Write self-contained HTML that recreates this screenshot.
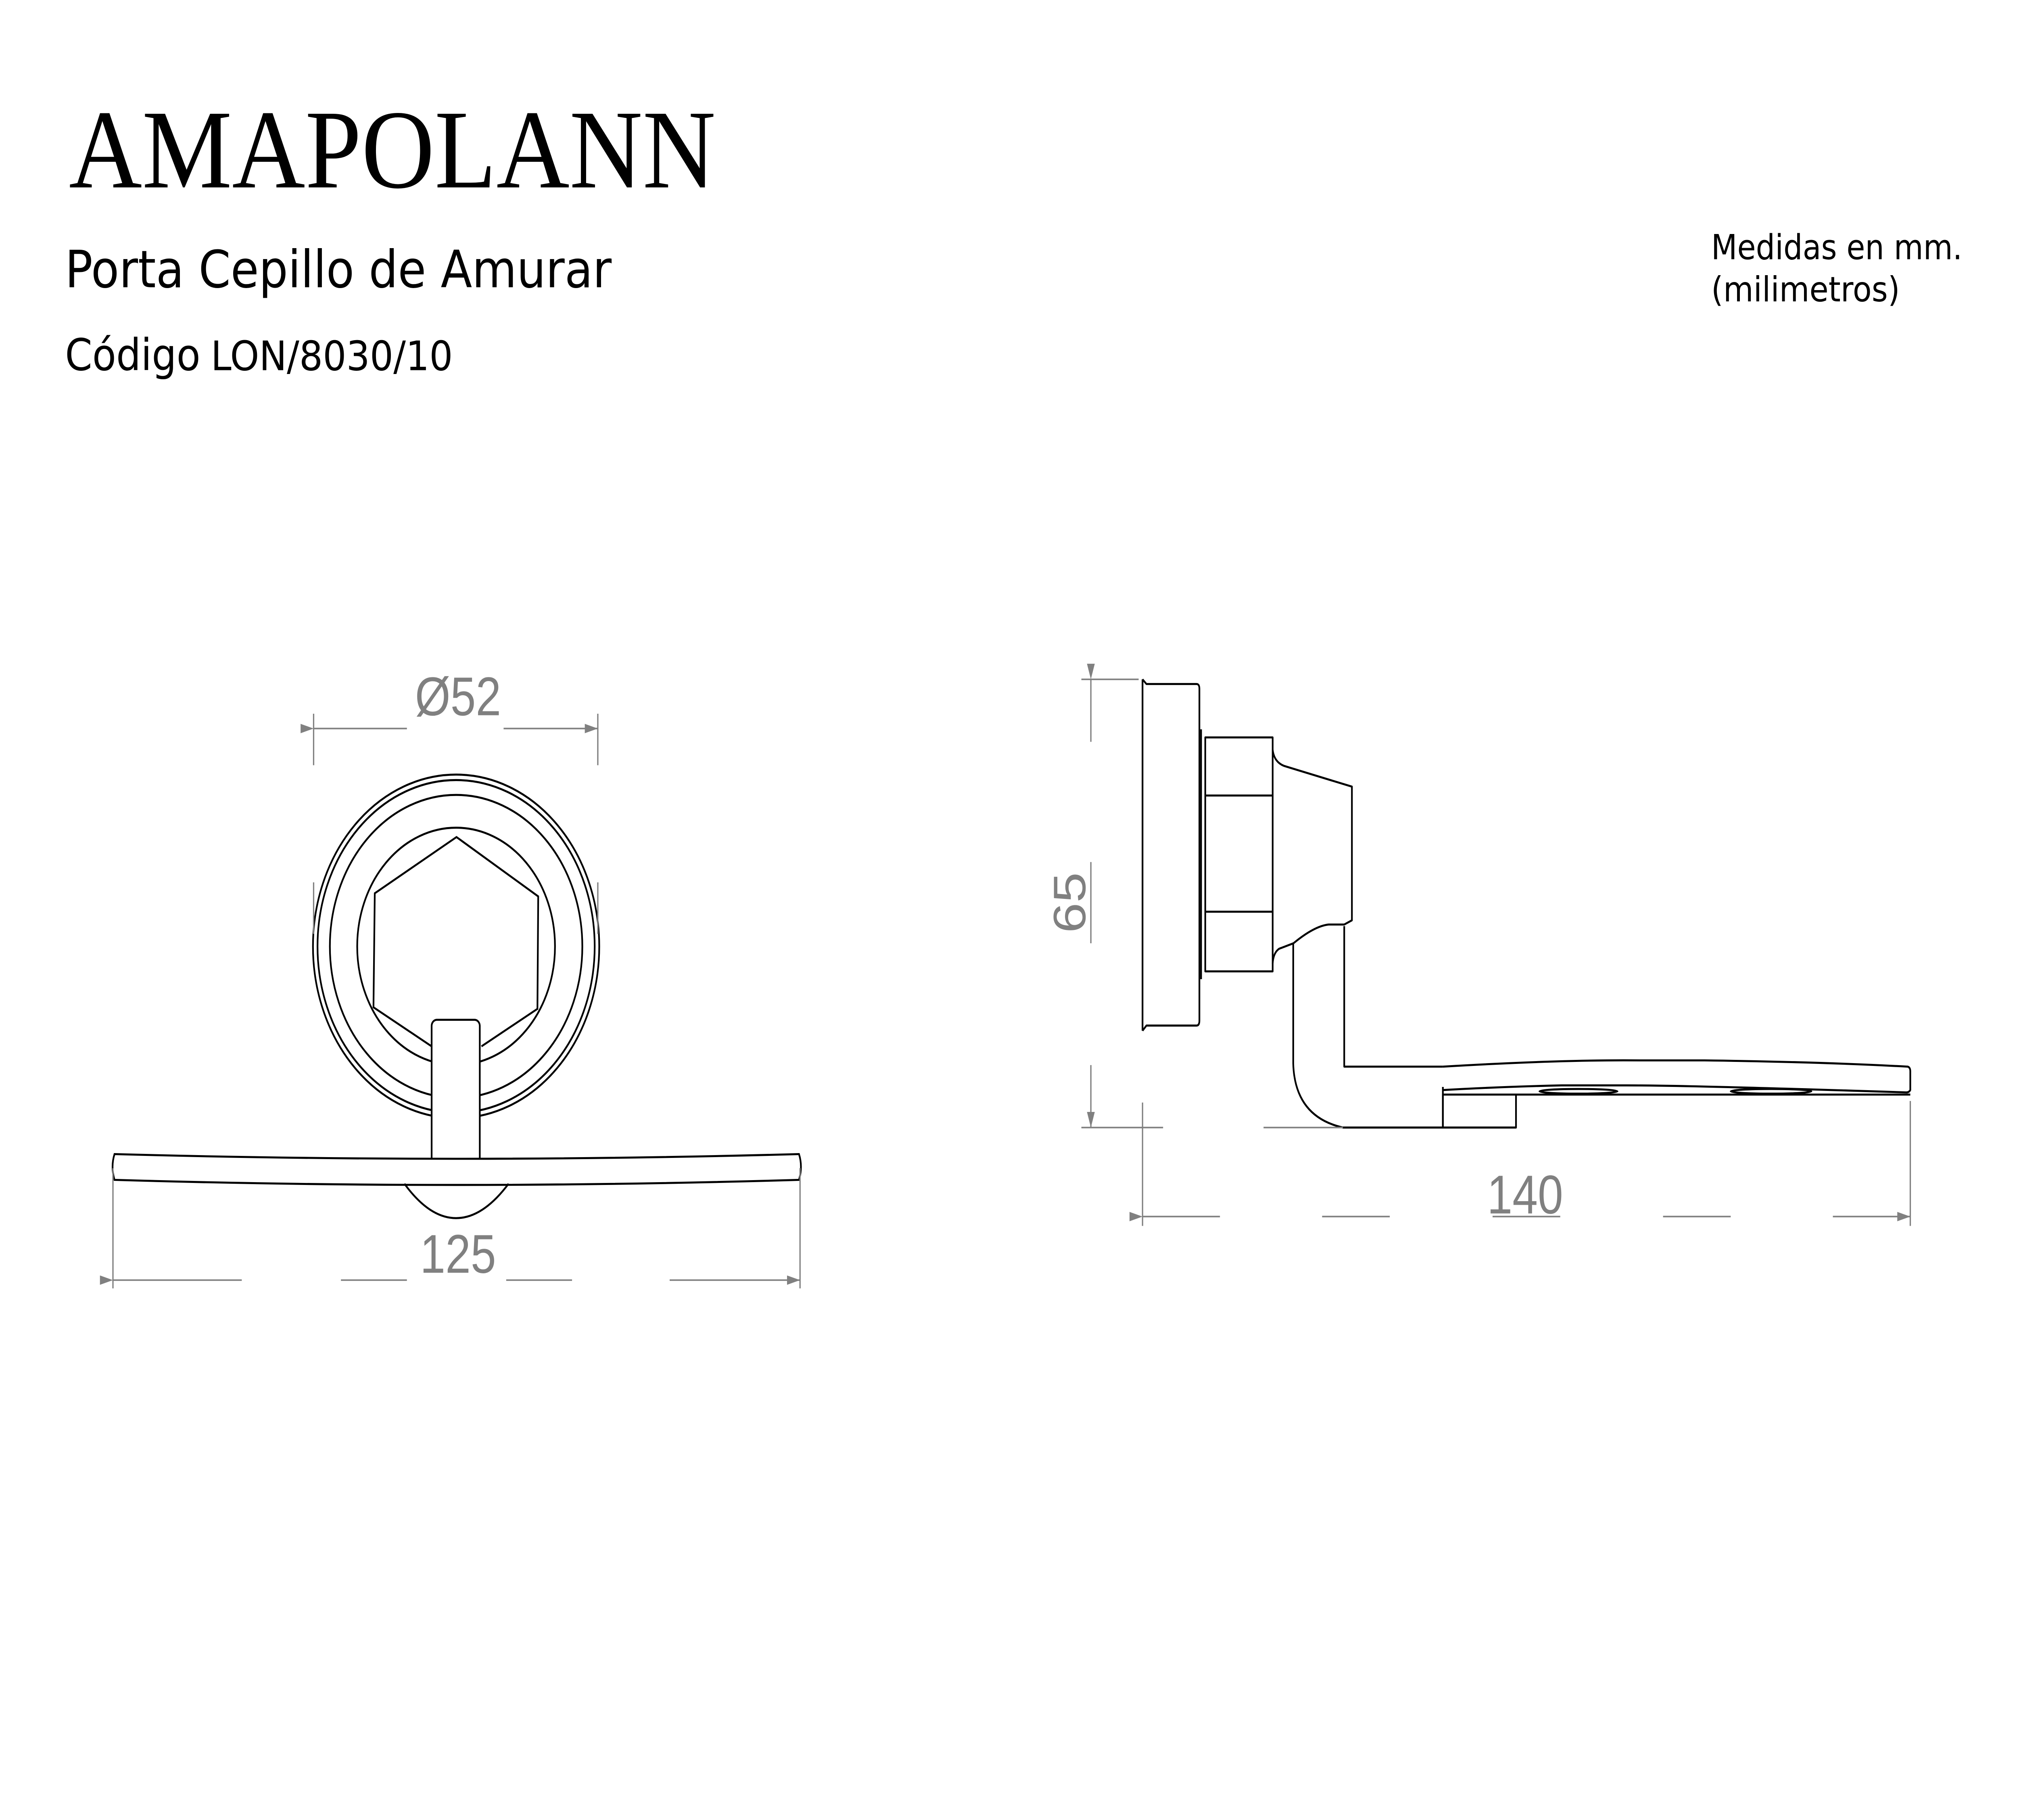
<!DOCTYPE html>
<html><head><meta charset="utf-8"><style>
html,body{margin:0;padding:0;background:#fff;overflow:hidden;width:100%;height:100%;}
svg{display:block;position:fixed;left:0;top:0;width:100vw;height:100vh;}
</style></head><body>
<svg xmlns="http://www.w3.org/2000/svg" viewBox="0 0 1550 1165.4" preserveAspectRatio="none">
<rect width="1550" height="1165.4" fill="#fff"/>
<text x="53" y="120" font-family="Liberation Serif, serif" font-size="72" textLength="497" lengthAdjust="spacingAndGlyphs" fill="#000">AMAPOLANN</text>
<text x="50" y="184" font-family="DejaVu Sans, Liberation Sans, sans-serif" font-size="33" textLength="420" lengthAdjust="spacingAndGlyphs" fill="#000">Porta Cepillo de Amurar</text>
<text x="50" y="237" font-family="DejaVu Sans, Liberation Sans, sans-serif" font-size="28" fill="#000"><tspan textLength="104" lengthAdjust="spacingAndGlyphs">Código</tspan><tspan x="162" textLength="186" lengthAdjust="spacingAndGlyphs" font-size="26">LON/8030/10</tspan></text>
<text x="1315" y="166" font-family="DejaVu Sans, Liberation Sans, sans-serif" font-size="22" textLength="193" lengthAdjust="spacingAndGlyphs" fill="#000">Medidas en mm.</text>
<text x="1315" y="193" font-family="DejaVu Sans, Liberation Sans, sans-serif" font-size="22" textLength="145" lengthAdjust="spacingAndGlyphs" fill="#000">(milimetros)</text>

<defs>
<marker id="ar" viewBox="0 0 10 6" refX="10" refY="3" markerWidth="10" markerHeight="6" markerUnits="userSpaceOnUse" orient="auto"><path d="M0,0 L10,3 L0,6 z" fill="#808080"/></marker>
</defs>

<g fill="none" stroke="#000" stroke-width="1.3">
<circle cx="350.5" cy="606" r="110"/>
<circle cx="350.5" cy="606" r="106.5"/>
<circle cx="350.5" cy="606" r="97"/>
<circle cx="350.5" cy="606" r="76"/>
<polyline points="331.7,670 287,645 288,572 350.8,536 413.6,574 413,646 370,670"/>
<rect x="331.7" y="653" width="37" height="95" rx="4" fill="#fff"/>
<path d="M88,739 Q350,745 614,739 Q617,747 614,755.5 Q350,762 88,755.5 Q85,747 88,739 Z" fill="#fff"/>
<path d="M310.8,758 Q330,780 350.5,780 Q371,780 390.8,758"/>
</g>
<g stroke="#808080" stroke-width="1" fill="none">
<line x1="241" y1="466.5" x2="312.7" y2="466.5" marker-start="url(#ar)"/>
<line x1="387" y1="466.5" x2="459.4" y2="466.5" marker-end="url(#ar)"/>
<line x1="241" y1="457" x2="241" y2="490"/>
<line x1="459.4" y1="457" x2="459.4" y2="490"/>
<line x1="241" y1="565" x2="241" y2="598"/>
<line x1="459.4" y1="565" x2="459.4" y2="598"/>
<line x1="86.8" y1="819.7" x2="185.8" y2="819.7" marker-start="url(#ar)"/>
<line x1="262" y1="819.7" x2="312.7" y2="819.7"/>
<line x1="389" y1="819.7" x2="439.6" y2="819.7"/>
<line x1="514.6" y1="819.7" x2="614.8" y2="819.7" marker-end="url(#ar)"/>
<line x1="86.8" y1="748" x2="86.8" y2="825"/>
<line x1="614.8" y1="748" x2="614.8" y2="825"/>
</g>
<text x="352" y="458" text-anchor="middle" font-family="Liberation Sans, sans-serif" font-size="35" fill="#808080">Ø52</text>
<text x="352" y="815" text-anchor="middle" font-family="Liberation Sans, sans-serif" font-size="35" fill="#808080">125</text>

<g fill="none" stroke="#000" stroke-width="1.3" stroke-linejoin="round">
<path d="M878,435 L878,660 M878,435 L881,438 L919.5,438 Q921.7,438 921.7,441 L921.7,653.5 Q921.7,656.7 919.5,656.7 L881,656.7 L878,660"/>
<line x1="923" y1="467" x2="923" y2="627"/>
<rect x="926.2" y="472.2" width="51.8" height="149.8"/>
<line x1="926.2" y1="509.4" x2="978" y2="509.4"/>
<line x1="926.2" y1="583.8" x2="978" y2="583.8"/>
<path d="M978,480 Q979,488 987,490.5 L1038.9,503.7 L1038.9,589.3 L1033,592 L1021,592 Q1010,593 994,604 L983,607.5 Q978.5,610 978,617"/>
<path d="M993.8,603.6 L993.8,681 Q995,715 1032,722 L1108.8,722"/>
<path d="M1033,593 L1033,683 L1108.8,683"/>
<path d="M1108.8,683 Q1200,678.5 1260,679 L1310,679 Q1400,680 1466,683 Q1468,683.5 1468,686 L1468,698 Q1467,699.5 1465,699.5 Q1300,695 1250,695 L1200,695 Q1150,696 1108.8,698"/>
<line x1="1108.8" y1="700.9" x2="1468" y2="700.9"/>
<line x1="1108.8" y1="696" x2="1108.8" y2="722"/>
<rect x="1108.8" y="700.9" width="56.2" height="21.1"/>
<ellipse cx="1213" cy="698.8" rx="30" ry="1.5"/>
<ellipse cx="1361" cy="698.8" rx="31" ry="1.5"/>
</g>
<g stroke="#808080" stroke-width="1" fill="none">
<line x1="838.3" y1="435" x2="838.3" y2="475" marker-start="url(#ar)"/>
<line x1="838.3" y1="552" x2="838.3" y2="604"/>
<line x1="838.3" y1="682" x2="838.3" y2="722" marker-end="url(#ar)"/>
<line x1="831" y1="435" x2="875" y2="435"/>
<line x1="831" y1="722" x2="893.8" y2="722"/>
<line x1="971" y1="722" x2="1032" y2="722"/>
<line x1="878" y1="706" x2="878" y2="785"/>
<line x1="1468" y1="705" x2="1468" y2="785"/>
<line x1="878" y1="779" x2="937.5" y2="779" marker-start="url(#ar)"/>
<line x1="1016" y1="779" x2="1068" y2="779"/>
<line x1="1147" y1="779" x2="1199" y2="779"/>
<line x1="1278" y1="779" x2="1330" y2="779"/>
<line x1="1408.5" y1="779" x2="1468" y2="779" marker-end="url(#ar)"/>
</g>
<text x="1172" y="777" text-anchor="middle" font-family="Liberation Sans, sans-serif" font-size="35" fill="#808080">140</text>
<text transform="translate(834,578) rotate(-90)" text-anchor="middle" font-family="Liberation Sans, sans-serif" font-size="35" fill="#808080">65</text>
</svg>
</body></html>
